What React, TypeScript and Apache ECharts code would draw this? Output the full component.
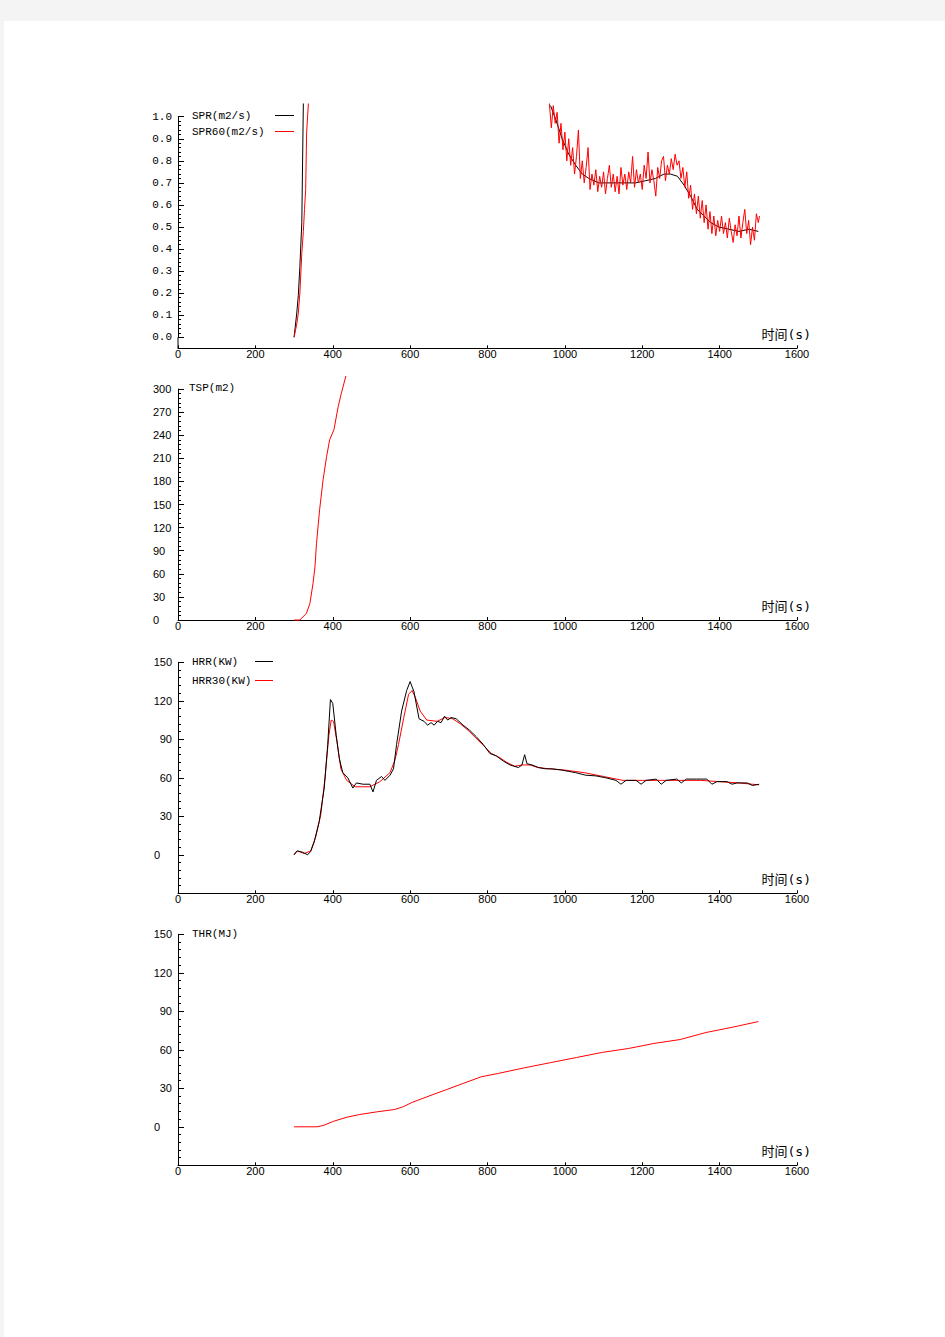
import React, { useEffect, useRef } from "react";
import * as echarts from "echarts";

const W = 945;
const H = 1337;

// ---------- Panel 1: SPR (m2/s) ----------
const sprRiseTime = [300, 307, 311, 315, 320, 322, 324];
const sprRiseValue = [0, 0.11, 0.19, 0.32, 0.52, 0.79, 1.06];
const spr60RiseTime = [300, 307, 311, 315, 320, 324, 327, 330, 332.5, 337];
const spr60RiseValue = [0, 0.06, 0.11, 0.2, 0.38, 0.48, 0.58, 0.67, 0.93, 1.06];

const sprLateTime = [963, 976, 993, 1010, 1028, 1045, 1062, 1088, 1114, 1148, 1183, 1209, 1234, 1256, 1273, 1291, 1308, 1325, 1342, 1360, 1377, 1398, 1424, 1450, 1476, 1500];
const sprLateValue = [1.05, 0.99, 0.9, 0.83, 0.78, 0.74, 0.72, 0.7, 0.7, 0.7, 0.7, 0.71, 0.72, 0.74, 0.74, 0.73, 0.69, 0.64, 0.58, 0.55, 0.52, 0.5, 0.49, 0.48, 0.49, 0.48];

const spr60LateTime = [
  960, 965, 970, 975, 980, 985, 990, 995, 1000, 1005, 1010, 1015, 1020, 1025, 1030, 1035, 1040, 1045, 1050, 1055,
  1060, 1065, 1070, 1075, 1080, 1085, 1090, 1095, 1100, 1105, 1110, 1115, 1120, 1125, 1130, 1135, 1140, 1145, 1150, 1155,
  1160, 1165, 1170, 1175, 1180, 1185, 1190, 1195, 1200, 1205, 1210, 1215, 1220, 1225, 1230, 1235, 1240, 1245, 1250, 1255,
  1260, 1265, 1270, 1275, 1280, 1285, 1290, 1295, 1300, 1305, 1310, 1315, 1320, 1325, 1330, 1335, 1340, 1345, 1350, 1355,
  1360, 1365, 1370, 1375, 1380, 1385, 1390, 1395, 1400, 1405, 1410, 1415, 1420, 1425, 1430, 1435, 1440, 1445, 1450, 1455,
  1460, 1465, 1470, 1475, 1480, 1485, 1490, 1495, 1500, 1503,
];
const spr60LateValue = [
  1.06, 0.95, 1.05, 0.97, 1.02, 0.88, 0.97, 0.85, 0.93, 0.8, 0.9, 0.78, 0.86, 0.74, 0.82, 0.94, 0.72, 0.8, 0.7, 0.77,
  0.86, 0.67, 0.74, 0.69, 0.76, 0.66, 0.73, 0.68, 0.75, 0.65, 0.72, 0.78, 0.68, 0.74, 0.66, 0.73, 0.65, 0.77, 0.69, 0.74,
  0.67, 0.75, 0.7, 0.82, 0.68, 0.76, 0.7, 0.74, 0.67, 0.78, 0.72, 0.84, 0.7, 0.76, 0.71, 0.64, 0.77, 0.72, 0.8, 0.82,
  0.71, 0.78, 0.74, 0.81, 0.76, 0.83, 0.78, 0.8, 0.72, 0.77, 0.68, 0.75, 0.63, 0.69, 0.58, 0.65, 0.56, 0.64, 0.54, 0.62,
  0.52, 0.6, 0.49, 0.57, 0.47, 0.55, 0.46, 0.53, 0.48, 0.55, 0.47, 0.52, 0.45, 0.54, 0.48, 0.43, 0.51, 0.46, 0.55, 0.45,
  0.52, 0.58, 0.47, 0.53, 0.42, 0.5, 0.44, 0.56, 0.52, 0.55,
];

// ---------- Panel 2: TSP (m2) ----------
const tspTime = [300, 315, 332, 341, 349, 354, 358, 366, 375, 384, 392, 403, 414, 422, 434];
const tspValue = [0, 0, 8.7, 21.7, 47.6, 69, 99.6, 143, 182, 212, 234, 247, 277, 294, 317];

// ---------- Panel 3: HRR (KW) ----------
const hrrTime = [
  300, 304, 309, 322, 335, 343, 352, 365, 378, 387, 394, 400, 409, 417, 426, 439, 452, 461, 478, 496,
  504, 513, 526, 535, 548, 557, 565, 578, 591, 600, 610, 623, 636, 645, 654, 662, 671, 680, 689, 697,
  706, 719, 737, 754, 771, 789, 806, 823, 841, 858, 880, 889, 896, 902, 915, 932, 950, 967, 993, 1010,
  1028, 1054, 1080, 1106, 1132, 1145, 1158, 1184, 1197, 1210, 1236, 1249, 1262, 1289, 1301, 1314, 1341, 1367, 1380, 1393,
  1419, 1432, 1445, 1471, 1485, 1502,
];
const hrrValue = [
  0, 2, 3, 2, 0, 2.6, 10, 26, 52, 86, 121, 118, 93, 75, 64, 60, 52, 56, 55, 55,
  49, 58, 61, 58, 62, 67, 86, 112, 128, 135, 127, 106, 104, 101, 103, 101, 104, 103, 108, 105,
  107, 106, 101, 97, 92, 86, 79, 77, 73, 70, 68, 70, 78, 71, 70, 68, 67, 67, 66, 65,
  64, 62, 61.5, 60, 58, 55, 58, 58, 55, 58, 59, 55, 58, 59, 56, 59, 59, 59, 55, 57,
  57, 55, 56, 56, 54, 55,
];
const hrr30Time = [
  300, 309, 326, 343, 356, 369, 380, 390, 396, 402, 411, 421, 436, 458, 496, 522, 548, 561, 570, 583,
  596, 605, 613, 626, 643, 670, 690, 710, 730, 750, 770, 790, 810, 830, 850, 870, 890, 910, 930, 960,
  1000, 1050, 1100, 1150, 1200, 1250, 1300, 1350, 1400, 1450, 1502,
];
const hrr30Value = [
  0, 3, 1, 3, 14, 31, 60, 93, 105, 104, 88, 67, 58, 53, 53, 57, 64, 74, 86, 106,
  125, 128, 123, 112, 105, 104, 107, 106, 102, 97, 91, 85, 79, 76, 72, 69, 70, 70, 68, 67,
  66, 64, 61, 58, 58, 58, 58, 58, 57, 56, 54.5,
];

// ---------- Panel 4: THR (MJ) ----------
const thrTime = [300, 359, 375, 403, 437, 470, 515, 560, 582, 605, 649, 694, 739, 784, 828, 896, 963, 1030, 1097, 1164, 1231, 1298, 1365, 1432, 1500];
const thrValue = [0, 0, 1, 4.4, 7.5, 9.6, 11.7, 13.5, 15.6, 19, 24, 29, 34, 39, 41.6, 46, 50, 54, 58, 61, 65, 68, 73.5, 77.5, 82];

const pairs = (xs: number[], ys: number[]) => xs.map((x, i) => [x, ys[i]]);

const BLACK = "#000000";
const RED = "#ff0000";
const MONO = '"Liberation Mono", "DejaVu Sans Mono", monospace';
const SANS = '"Liberation Sans", Arial, sans-serif';
const CJK = '"DejaVu Sans Mono", "Noto Sans CJK SC", sans-serif';

const L = 178;
const R = W - 797;

function xAxisShown(gridIndex: number) {
  return {
    type: "value",
    gridIndex,
    min: 0,
    max: 1600,
    interval: 200,
    axisLine: { show: true, onZero: false, lineStyle: { color: BLACK, width: 1 } },
    axisTick: { show: true, inside: true, length: 3, lineStyle: { color: BLACK } },
    axisLabel: { show: true, margin: 0, color: BLACK, fontFamily: SANS, fontSize: 11, formatter: (v: number) => String(v) },
    splitLine: { show: false },
    name: "时间(s)",
    nameLocation: "end",
    nameGap: 14,
    nameTextStyle: {
      color: BLACK,
      fontFamily: CJK,
      fontSize: 13,
      align: "right",
      verticalAlign: "bottom",
      padding: [0, 0, 7, 0],
    },
  };
}

function yAxisShown(
  gridIndex: number,
  min: number,
  max: number,
  interval: number,
  font: string,
  fmt: (v: number) => string,
  labelExtra: any = {}
) {
  return {
    type: "value",
    gridIndex,
    min,
    max,
    interval,
    axisLine: { show: true, onZero: false, lineStyle: { color: BLACK, width: 1 } },
    axisTick: { show: true, inside: true, length: 6, lineStyle: { color: BLACK } },
    minorTick: { show: true, splitNumber: 5, length: 3, lineStyle: { color: BLACK } },
    axisLabel: { show: true, margin: 6, color: BLACK, fontFamily: font, fontSize: 11, formatter: fmt, ...labelExtra },
    splitLine: { show: false },
    minorSplitLine: { show: false },
  };
}

const hrrLabel = (v: number) => (v < 0 ? "" : v === 0 ? "{z|0}" : String(v));
const hrrLabelExtra = { rich: { z: { fontFamily: SANS, fontSize: 11, color: BLACK, padding: [0, 12, 0, 0] } } };

function lineSeries(name: string, data: number[][], color: string, xi: number, yi: number, clip = true) {
  return {
    name,
    type: "line",
    xAxisIndex: xi,
    yAxisIndex: yi,
    data,
    showSymbol: false,
    symbol: "none",
    clip,
    silent: true,
    lineStyle: { color, width: 1 },
    itemStyle: { color },
  };
}

export default function App() {
  const ref = useRef<HTMLDivElement>(null);

  useEffect(() => {
    const el = ref.current;
    if (!el) return;
    const chart = echarts.init(el, null, { renderer: "svg", width: W, height: H });

    const option: any = {
      animation: false,
      backgroundColor: "transparent",
      grid: [
        { left: L, right: R, top: 116.7, height: 220.6 },
        { left: L, right: R, top: 103.5, height: 244.8 },
        { left: L, right: R, top: 389, height: 231 },
        { left: L, right: R, top: 662.3, height: 231 },
        { left: L, right: R, top: 934.3, height: 231 },
      ],
      xAxis: [
        { type: "value", gridIndex: 0, min: 0, max: 1600, show: false },
        xAxisShown(1),
        xAxisShown(2),
        xAxisShown(3),
        xAxisShown(4),
      ],
      yAxis: [
        yAxisShown(0, 0, 1, 0.1, MONO, (v: number) => v.toFixed(1)),
        { type: "value", gridIndex: 1, min: -0.05, max: 1.06, show: false },
        yAxisShown(2, 0, 300, 30, SANS, (v: number) => String(v), { align: "left", margin: 25 }),
        yAxisShown(3, -30, 150, 30, SANS, hrrLabel, hrrLabelExtra),
        yAxisShown(4, -30, 150, 30, SANS, hrrLabel, hrrLabelExtra),
      ],
      series: [
        lineSeries("SPR(m2/s)", pairs(sprRiseTime, sprRiseValue), BLACK, 1, 1),
        lineSeries("SPR(m2/s) late", pairs(sprLateTime, sprLateValue), BLACK, 1, 1),
        lineSeries("SPR60(m2/s)", pairs(spr60RiseTime, spr60RiseValue), RED, 1, 1),
        lineSeries("SPR60(m2/s) late", pairs(spr60LateTime, spr60LateValue), RED, 1, 1),
        lineSeries("TSP(m2)", pairs(tspTime, tspValue), RED, 2, 2, false),
        lineSeries("HRR30(KW)", pairs(hrr30Time, hrr30Value), RED, 3, 3),
        lineSeries("HRR(KW)", pairs(hrrTime, hrrValue), BLACK, 3, 3),
        lineSeries("THR(MJ)", pairs(thrTime, thrValue), RED, 4, 4),
      ],
    };
    chart.setOption(option);

    // y-axis of panel 1 continues below 0 down to the time axis
    const a = chart.convertToPixel({ gridIndex: 1 } as any, [0, -0.05]) as number[];
    const b = chart.convertToPixel({ gridIndex: 1 } as any, [0, 0]) as number[];

    const txt = (text: string, x: number, y: number) => ({
      type: "text",
      silent: true,
      style: { text, x, y, fill: BLACK, font: `11px ${MONO}`, align: "left", verticalAlign: "middle" },
    });
    const seg = (x1: number, y1: number, x2: number, y2: number, stroke: string) => ({
      type: "line",
      silent: true,
      shape: { x1, y1, x2, y2 },
      style: { stroke, lineWidth: 1 },
    });

    chart.setOption({
      graphic: [
        seg(a[0], a[1], b[0], b[1], BLACK),
        txt("SPR(m2/s)", 192, 116),
        seg(275, 115.5, 294, 115.5, BLACK),
        txt("SPR60(m2/s)", 192, 132),
        seg(275, 131.5, 294, 131.5, RED),
        txt("TSP(m2)", 189, 388),
        txt("HRR(KW)", 192, 662),
        seg(255, 661.5, 273, 661.5, BLACK),
        txt("HRR30(KW)", 192, 681),
        seg(255, 680.5, 273, 680.5, RED),
        txt("THR(MJ)", 192, 934),
      ],
    });

    return () => chart.dispose();
  }, []);

  return (
    <div style={{ position: "absolute", left: 0, top: 0, width: W, height: H, background: "#f4f4f4", overflow: "hidden" }}>
      <div style={{ position: "absolute", left: 4, top: 21, right: 0, bottom: 0, background: "#ffffff" }} />
      <div ref={ref} style={{ position: "absolute", left: 0, top: 0, width: W, height: H }} />
    </div>
  );
}
